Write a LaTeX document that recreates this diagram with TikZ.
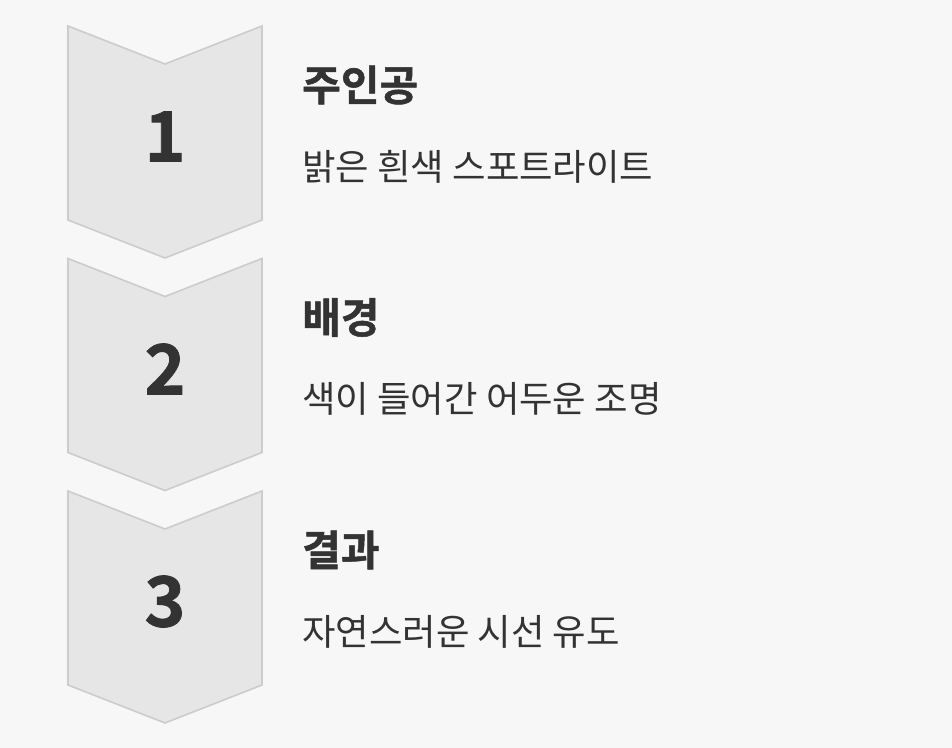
\documentclass[tikz,border=0pt]{standalone}
\usepackage{fontspec}
\setmainfont{Noto Sans CJK KR}
\newfontfamily\heavyfont[FakeBold=1.2]{Noto Sans CJK KR Bold}
\definecolor{bg}{HTML}{F7F7F7}
\definecolor{chevfill}{HTML}{E6E6E6}
\definecolor{chevline}{HTML}{CCCCCC}
\definecolor{ink}{HTML}{333333}

\tikzstyle{chevron}  = [ draw=chevline,fill=chevfill,line width=1.2pt ]
\tikzstyle{numlabel} = [ text=ink,inner sep=0pt,
                         font=\fontsize{52}{52}\selectfont\heavyfont ]
\tikzstyle{headline} = [ anchor=west,text=ink,inner sep=0pt,
                         font=\fontsize{31.5}{31.5}\selectfont\heavyfont ]
\tikzstyle{subline}  = [ anchor=west,text=ink,inner sep=0pt,
                         font=\fontsize{27.3}{27.3}\selectfont ]

\begin{document}
\begin{tikzpicture}[x=0.75pt,y=-0.75pt]
  \useasboundingbox[fill=bg] (0,0) rectangle (952,748);
  \foreach \i/\head/\desc in {1/주인공/밝은 흰색 스포트라이트,
                              2/배경/색이 들어간 어두운 조명,
                              3/결과/자연스러운 시선 유도} {
    \pgfmathsetmacro{\ytop}{26+(\i-1)*232.5}
    \draw[chevron] (68,\ytop) -- (165,\ytop+38) -- (262,\ytop)
      -- (262,\ytop+194) -- (165,\ytop+232) -- (68,\ytop+194) -- cycle;
    \node[numlabel] at (165,\ytop+110.5) (num\i)  {\i};
    \node[headline] at (302,\ytop+59)    (head\i) {\head};
    \node[subline]  at (302,\ytop+140.5) (desc\i) {\desc};
  }
\end{tikzpicture}
\end{document}
